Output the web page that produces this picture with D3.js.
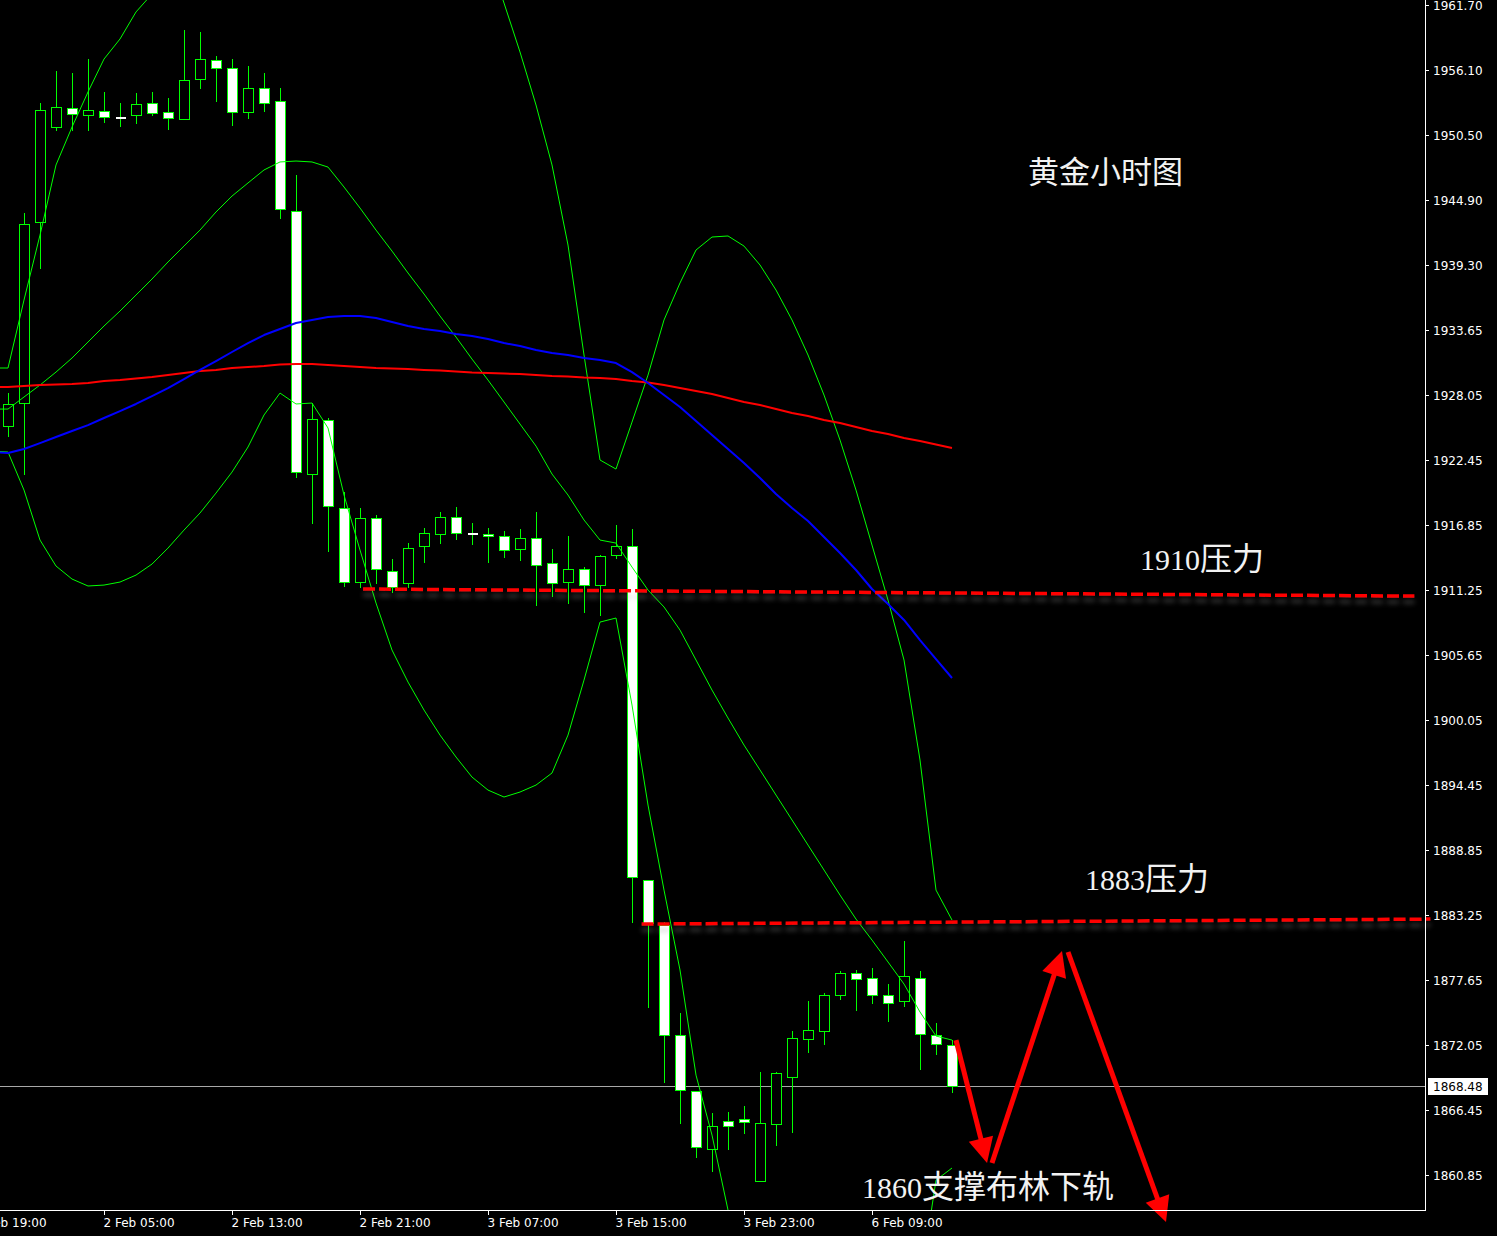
<!DOCTYPE html>
<html><head><meta charset="utf-8">
<script src="https://cdn.jsdelivr.net/npm/d3@7"></script>
<style>
html,body{margin:0;padding:0;background:#000;overflow:hidden;}
svg{display:block;}
</style></head><body>
<script>
// ---- data (candle index starts at -1) ----
const firstIndex = -1;
const openP = [1925.60,1925.41,1927.39,1942.99,1951.18,1952.82,1952.22,1952.56,1952.05,1952.22,1953.25,1952.48,
 1951.87,1955.32,1956.96,1956.27,1952.48,1954.55,1953.42,1943.94,1921.27,1925.93,
 1918.34,1911.96,1917.48,1912.91,1911.88,1915.07,1916.10,1917.57,1916.19,1916.10,
 1915.93,1914.81,1915.76,1913.60,1911.96,1913.08,1911.70,1914.29,1915.07,1886.27,
 1882.40,1872.91,1868.09,1863.09,1865.50,1865.67,1860.33,1865.24,1869.29,1872.57,
 1873.26,1876.36,1878.26,1877.83,1876.36,1875.84,1877.83,1872.91,1872.05];
const highP = [1927.80,1928.25,1943.77,1953.25,1956.01,1955.84,1957.05,1954.20,1953.25,1954.11,1954.20,1953.68,
 1959.54,1959.37,1957.30,1957.05,1956.44,1955.84,1954.55,1947.05,1927.39,1926.10,
 1919.72,1918.34,1917.74,1913.95,1915.32,1916.62,1918.00,1918.43,1917.05,1916.62,
 1916.36,1916.53,1918.00,1914.81,1915.93,1913.26,1914.29,1916.88,1916.53,1886.27,
 1882.65,1874.81,1868.09,1866.19,1866.28,1866.79,1869.72,1869.72,1873.26,1875.84,
 1876.53,1878.43,1878.52,1878.69,1877.31,1881.02,1878.43,1873.95,1872.48];
const lowP = [1924.40,1924.55,1921.27,1939.03,1950.92,1950.92,1950.92,1951.61,1951.27,1951.53,1952.22,1951.01,
 1951.87,1954.55,1953.42,1951.36,1951.96,1952.56,1943.34,1921.01,1917.05,1914.63,
 1911.62,1911.53,1911.88,1911.10,1911.53,1913.69,1915.32,1915.67,1915.24,1913.69,
 1914.12,1913.86,1909.98,1910.76,1910.15,1909.38,1909.12,1914.03,1882.65,1875.33,
 1868.86,1865.33,1862.40,1861.19,1863.09,1864.47,1860.33,1863.43,1864.55,1871.45,
 1872.14,1876.02,1875.07,1875.67,1874.12,1875.41,1869.98,1871.28,1868.00];
const closeP = [1925.41,1927.31,1942.82,1952.65,1952.91,1952.30,1952.65,1952.05,1952.05,1953.17,1952.39,1951.96,
 1955.23,1957.05,1956.27,1952.48,1954.55,1953.25,1944.12,1921.44,1926.01,1918.51,
 1911.96,1917.48,1913.08,1911.53,1914.89,1916.19,1917.57,1916.19,1916.19,1915.93,
 1914.72,1915.76,1913.43,1911.88,1913.08,1911.70,1914.20,1915.07,1886.53,1882.57,
 1872.91,1868.17,1863.26,1865.07,1865.07,1865.41,1865.33,1869.64,1872.66,1873.34,
 1876.36,1878.26,1877.74,1876.36,1875.67,1878.00,1873.00,1872.14,1868.48];

const bbUpper = [1930.41,1930.41,1936.27,1941.87,1947.91,1951.18,1954.20,1957.04,1958.77,1961.10,1962.65,1964.5,
 1966.3,1968.0,1969.3,1970.2,1970.8,1971.2,1971.5,1976.0,1979.0,1980.5,
 1981.0,1980.5,1979.5,1978.0,1976.0,1974.0,1972.0,1970.0,1968.0,1966.0,
 1961.87,1957.65,1953.08,1947.91,1941.01,1931.53,1922.48,1921.70,1925.75,1929.80,
 1934.55,1937.74,1940.58,1941.70,1941.79,1940.92,1939.29,1937.13,1934.55,1931.53,
 1928.08,1924.20,1919.89,1915.15,1910.41,1905.24,1896.62,1885.41,1882.83];
const bbMiddle = [1926.87,1926.87,1927.91,1928.94,1930.06,1931.27,1932.65,1934.03,1935.32,1936.70,1938.08,1939.55,
 1940.92,1942.30,1943.86,1945.23,1946.36,1947.48,1948.17,1948.25,1948.17,1947.73,
 1946.01,1944.20,1942.30,1940.49,1938.60,1936.79,1934.89,1933.08,1931.18,1929.37,
 1927.48,1925.58,1923.68,1921.27,1919.46,1917.31,1915.58,1915.32,1913.25,1911.27,
 1909.81,1907.82,1905.24,1902.65,1900.24,1897.91,1895.76,1893.60,1891.45,1889.29,
 1887.14,1884.98,1882.91,1881.10,1879.21,1877.31,1874.90,1872.83,1872.48];
const bbLower = [1923.25,1923.17,1919.89,1915.58,1913.34,1912.22,1911.62,1911.70,1911.96,1912.56,1913.51,1914.89,
 1916.44,1917.91,1919.63,1921.44,1923.60,1926.36,1928.25,1927.31,1927.39,1925.24,
 1919.46,1914.72,1910.15,1906.10,1903.34,1900.93,1898.77,1896.88,1895.15,1894.03,
 1893.43,1893.86,1894.46,1895.50,1898.77,1903.51,1908.51,1908.86,1901.36,1892.74,
 1885.41,1878.52,1869.46,1864.29,1857.83,1853.09,1849.64,1847.48,1846.19,1845.33,
 1844.90,1844.90,1845.33,1846.19,1847.48,1849.21,1851.36,1860.41,1861.45];
const maBlue = [1923.17,1923.08,1923.43,1923.94,1924.46,1924.98,1925.49,1926.10,1926.70,1927.31,1927.99,1928.68,
 1929.46,1930.24,1931.01,1931.79,1932.56,1933.25,1933.77,1934.29,1934.55,1934.80,
 1934.89,1934.89,1934.72,1934.37,1934.03,1933.77,1933.60,1933.34,1933.17,1932.91,
 1932.56,1932.30,1931.96,1931.70,1931.53,1931.27,1931.10,1930.84,1930.06,1929.12,
 1928.08,1927.05,1925.84,1924.63,1923.43,1922.22,1920.93,1919.55,1918.34,1917.22,
 1915.84,1914.46,1913.00,1911.36,1910.07,1908.69,1906.96,1905.32,1903.69];
const maRed = [1928.77,1928.77,1928.86,1928.94,1928.99,1929.03,1929.12,1929.29,1929.37,1929.50,1929.63,1929.80,
 1929.98,1930.15,1930.24,1930.41,1930.49,1930.58,1930.71,1930.75,1930.75,1930.67,
 1930.58,1930.49,1930.41,1930.37,1930.32,1930.24,1930.19,1930.11,1930.02,1929.98,
 1929.93,1929.89,1929.80,1929.72,1929.68,1929.59,1929.55,1929.46,1929.29,1929.16,
 1928.94,1928.68,1928.43,1928.17,1927.82,1927.48,1927.22,1926.87,1926.53,1926.27,
 1925.93,1925.67,1925.32,1924.98,1924.72,1924.37,1924.12,1923.81,1923.51];

const yTickValues = [1961.70,1956.10,1950.50,1944.90,1939.30,1933.65,1928.05,1922.45,1916.85,1911.25,
 1905.65,1900.05,1894.45,1888.85,1883.25,1877.65,1872.05,1866.45,1860.85];
const xTickIndex = [-2,6,14,22,30,38,46,54];
const xTickLabels = ["1 Feb 19:00","2 Feb 05:00","2 Feb 13:00","2 Feb 21:00","3 Feb 07:00","3 Feb 15:00","3 Feb 23:00","6 Feb 09:00"];
const currentPrice = 1868.48;

// level lines: [startIndex, startPrice, endIndex, endPrice]
const levelLine1910 = [22.19, 1911.36, 87.9, 1910.75];
const levelLine1883 = [39.6, 1882.48, 88.9, 1882.91];
// arrows: [fromIndex, fromPrice, toIndex, toPrice]
const arrow1 = [59.25, 1872.48, 61.19, 1861.88];
const arrow2 = [61.5, 1861.88, 65.875, 1880.15];
const arrow3 = [66.25, 1880.07, 72.375, 1856.79];

const titleText = "黄金小时图";
const label1910 = ["1910", "压力"];
const label1883 = ["1883", "压力"];
const label1860 = ["1860", "支撑布林下轨"];

// ---- layout ----
const W = 1497, H = 1236, plotR = 1425, plotB = 1210;
const x = d3.scaleLinear().domain([0, 59]).range([8, 952]);
const y = d3.scaleLinear().domain([1860.85, 1961.70]).range([1175, 5]);
const GREEN = "#00ff00";

const svg = d3.select("body").append("svg").attr("width", W).attr("height", H)
  .style("background", "#000");
const defs = svg.append("defs");
defs.append("clipPath").attr("id", "plot").append("rect")
  .attr("x", 0).attr("y", 0).attr("width", plotR).attr("height", plotB);
const f = defs.append("filter").attr("id", "shadow").attr("x", "-5%").attr("y", "-200%").attr("width", "110%").attr("height", "600%");
f.append("feDropShadow").attr("dx", 0).attr("dy", 6).attr("stdDeviation", 2.5)
  .attr("flood-color", "#9a9a9a").attr("flood-opacity", 0.35);

const plot = svg.append("g").attr("clip-path", "url(#plot)");

// current price line
plot.append("line").attr("x1", 0).attr("x2", plotR)
  .attr("y1", Math.round(y(currentPrice)) + 0.5).attr("y2", Math.round(y(currentPrice)) + 0.5)
  .attr("stroke", "#a8a8a8").attr("stroke-width", 1);

// candles
const idx = d3.range(openP.length).map(i => i + firstIndex);
const cg = plot.append("g").attr("shape-rendering", "crispEdges");
idx.forEach((k, i) => {
  const cx = Math.round(x(k)) + 0.5;
  const o = openP[i], c = closeP[i], hi = highP[i], lo = lowP[i];
  const bull = c > o;
  cg.append("line").attr("x1", cx).attr("x2", cx)
    .attr("y1", Math.round(y(hi))).attr("y2", Math.round(y(lo)) + 1)
    .attr("stroke", GREEN).attr("stroke-width", 1);
  const top = Math.round(y(Math.max(o, c))) + 0.5;
  const bot = Math.round(y(Math.min(o, c))) + 0.5;
  if (bot - top < 1) {
    cg.append("line").attr("x1", cx - 5).attr("x2", cx + 5).attr("y1", top).attr("y2", top)
      .attr("stroke", bull ? GREEN : "#ffffff").attr("stroke-width", 2);
  } else {
    cg.append("rect").attr("x", cx - 5).attr("y", top).attr("width", 10).attr("height", bot - top)
      .attr("fill", bull ? "#000000" : "#ffffff").attr("stroke", GREEN).attr("stroke-width", 1);
  }
});

// indicator lines
const line = d3.line().x((d, i) => x(i + firstIndex)).y(d => y(d));
[[bbUpper, GREEN, 1], [bbMiddle, GREEN, 1], [bbLower, GREEN, 1],
 [maRed, "#ff0000", 2], [maBlue, "#0000ff", 2]].forEach(([arr, col, w]) => {
  plot.append("path").datum(arr).attr("d", line).attr("fill", "none")
    .attr("stroke", col).attr("stroke-width", w).attr("stroke-linejoin", "round");
});

// level lines
[levelLine1910, levelLine1883].forEach(l => {
  svg.append("line").attr("x1", x(l[0])).attr("y1", y(l[1])).attr("x2", x(l[2])).attr("y2", y(l[3]))
    .attr("stroke", "#ff0000").attr("stroke-width", 3.5).attr("stroke-dasharray", "12,4")
    .attr("filter", "url(#shadow)");
});

// arrows
function drawArrow(a) {
  const x1 = x(a[0]), y1 = y(a[1]), x2 = x(a[2]), y2 = y(a[3]);
  const dx = x2 - x1, dy = y2 - y1, len = Math.hypot(dx, dy);
  const ux = dx / len, uy = dy / len, px = -uy, py = ux;
  const hl = 25, hw = 12.5;
  const bx = x2 - ux * hl, by = y2 - uy * hl;
  svg.append("line").attr("x1", x1).attr("y1", y1).attr("x2", bx + ux * 2).attr("y2", by + uy * 2)
    .attr("stroke", "#ff0000").attr("stroke-width", 5);
  svg.append("polygon").attr("points", [[x2, y2], [bx + px * hw, by + py * hw], [bx - px * hw, by - py * hw]].map(p => p.join(",")).join(" "))
    .attr("fill", "#ff0000");
}
[arrow1, arrow2, arrow3].forEach(drawArrow);

// axes
svg.append("line").attr("x1", plotR + 0.5).attr("x2", plotR + 0.5).attr("y1", 0).attr("y2", plotB + 1)
  .attr("stroke", "#ffffff").attr("stroke-width", 1);
svg.append("line").attr("x1", 0).attr("x2", plotR + 1).attr("y1", plotB + 0.5).attr("y2", plotB + 0.5)
  .attr("stroke", "#ffffff").attr("stroke-width", 1);

const ya = svg.append("g");
yTickValues.forEach(v => {
  const yy = Math.round(y(v)) + 0.5;
  ya.append("line").attr("x1", plotR).attr("x2", plotR + 4).attr("y1", yy).attr("y2", yy)
    .attr("stroke", "#ffffff");
  ya.append("text").attr("x", 1433).attr("y", yy + 4.5).text(v.toFixed(2))
    .attr("fill", "#ffffff").attr("font-family", "DejaVu Sans, Verdana, sans-serif").attr("font-size", 12);
});

const xa = svg.append("g");
xTickIndex.forEach((k, i) => {
  const xx = Math.round(x(k)) + 0.5;
  xa.append("line").attr("x1", xx).attr("x2", xx).attr("y1", plotB).attr("y2", plotB + 5).attr("stroke", "#ffffff");
  xa.append("text").attr("x", xx - 1).attr("y", 1227).text(xTickLabels[i])
    .attr("fill", "#ffffff").attr("font-family", "DejaVu Sans, Verdana, sans-serif").attr("font-size", 12);
});

// current price tag
const cpy = Math.round(y(currentPrice));
svg.append("rect").attr("x", 1428).attr("y", cpy - 8).attr("width", 60).attr("height", 17).attr("fill", "#ffffff");
svg.append("text").attr("x", 1433).attr("y", cpy + 5).text(currentPrice.toFixed(2))
  .attr("fill", "#000000").attr("font-family", "DejaVu Sans, Verdana, sans-serif").attr("font-size", 12);

// annotations
function ann(parts, xx, yy) {
  const t = svg.append("text").attr("x", xx).attr("y", yy).attr("fill", "#f2f2f2");
  t.append("tspan").text(parts[0]).attr("font-family", "'Liberation Serif', serif").attr("font-size", 30);
  t.append("tspan").text(parts[1]).attr("font-family", "'Noto Sans CJK SC', sans-serif").attr("font-size", 32);
}
svg.append("text").attr("x", 1028).attr("y", 183).text(titleText)
  .attr("fill", "#f2f2f2").attr("font-family", "'Noto Sans CJK SC', sans-serif").attr("font-size", 31);
ann(label1910, 1140, 570);
ann(label1883, 1085, 890);
ann(label1860, 862, 1198);
</script>
</body></html>
